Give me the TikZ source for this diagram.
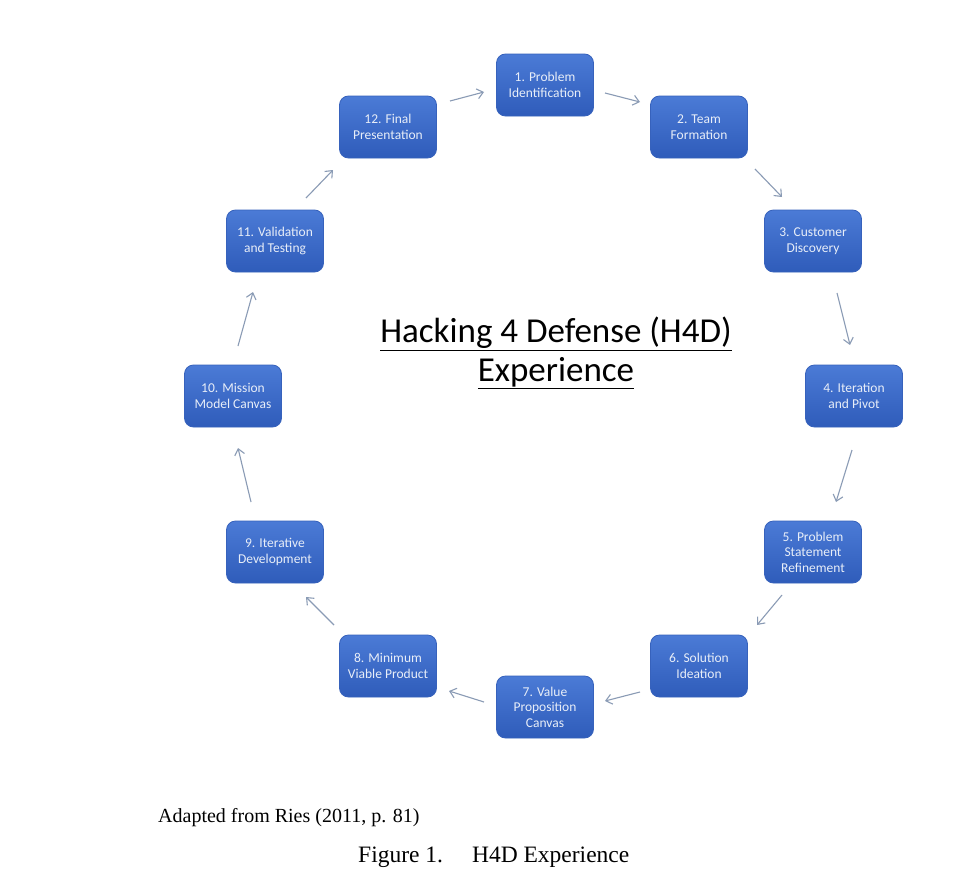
\documentclass[tikz,border=0pt]{standalone}
\usepackage{fontspec}
\setmainfont{Liberation Serif}
\newfontfamily\calib{Carlito}
\usetikzlibrary{arrows.meta,calc}
\definecolor{boxtop}{HTML}{4B7BD6}
\definecolor{boxbot}{HTML}{2F5CBA}
\definecolor{boxline}{HTML}{3762BC}
\definecolor{arr}{HTML}{8A9BB5}
\definecolor{boxtxt}{HTML}{E8EEF8}
\tikzset{
  stepbox/.style={rectangle, rounded corners=9pt, minimum width=97pt, minimum height=62pt,
    top color=boxtop, bottom color=boxbot, draw=boxline, line width=0.8pt,
    text=boxtxt, align=center, font=\calib\fontsize{13.5}{15.5}\selectfont, inner sep=2pt},
  flow/.style={draw=arr, line width=1.1pt, -{Straight Barb[length=6pt,width=10pt]}}
}
\begin{document}
\begin{tikzpicture}[x=1pt,y=-1pt]
\useasboundingbox (0,0) rectangle (970,886);
\fill[white] (0,0) rectangle (970,886);
\node[stepbox] (n1) at (545,85) {1. Problem\\Identification};
\node[stepbox] (n2) at (699,127) {2. Team\\Formation};
\node[stepbox] (n3) at (813,241) {3. Customer\\Discovery};
\node[stepbox] (n4) at (854,396) {4. Iteration\\and Pivot};
\node[stepbox] (n5) at (813,552) {5. Problem\\Statement\\Refinement};
\node[stepbox] (n6) at (699,666) {6. Solution\\Ideation};
\node[stepbox] (n7) at (545,707) {7. Value\\Proposition\\Canvas};
\node[stepbox] (n8) at (388,666) {8. Minimum\\Viable Product};
\node[stepbox] (n9) at (275,552) {9. Iterative\\Development};
\node[stepbox] (n10) at (233,396) {10. Mission\\Model Canvas};
\node[stepbox] (n11) at (275,241) {11. Validation\\and Testing};
\node[stepbox] (n12) at (388,127) {12. Final\\Presentation};
\draw[flow] ($(n12)+(62,-26)$) -- ($(n1)+(-61,7)$);
\draw[flow] ($(n1)+(60,8)$) -- ($(n2)+(-59,-25)$);
\draw[flow] ($(n2)+(56,42)$) -- ($(n3)+(-31,-44)$);
\draw[flow] ($(n3)+(24,52)$) -- ($(n4)+(-4,-51)$);
\draw[flow] ($(n4)+(-2,54)$) -- ($(n5)+(23,-50)$);
\draw[flow] ($(n5)+(-31,43)$) -- ($(n6)+(58,-41)$);
\draw[flow] ($(n6)+(-59,26)$) -- ($(n7)+(60,-6)$);
\draw[flow] ($(n7)+(-61,-5)$) -- ($(n8)+(61,25)$);
\draw[flow] ($(n8)+(-54,-41)$) -- ($(n9)+(31,45)$);
\draw[flow] ($(n9)+(-24,-50)$) -- ($(n10)+(5,52)$);
\draw[flow] ($(n10)+(5,-50)$) -- ($(n11)+(-22,51)$);
\draw[flow] ($(n11)+(31,-43)$) -- ($(n12)+(-55,43)$);
\node[align=center, font=\calib\fontsize{35}{39}\selectfont] (title) at (556,353) {\underline{Hacking 4 Defense (H4D)}\\\underline{Experience}};
\node[anchor=west, font=\fontsize{20}{23}\selectfont, inner sep=0pt] (src) at (158,818) {Adapted from Ries (2011, p. 81)};
\node[anchor=west, font=\fontsize{23.5}{26}\selectfont, inner sep=0pt] (cap) at (358,857) {Figure 1.\hspace{29pt}H4D Experience};
\end{tikzpicture}
\end{document}
